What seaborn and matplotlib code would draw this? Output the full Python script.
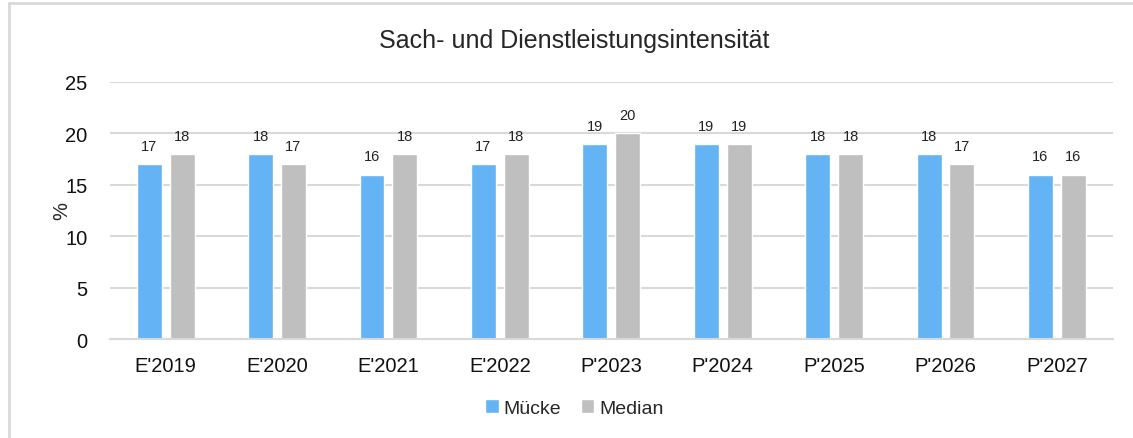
import pandas as pd
import matplotlib.pyplot as plt
import seaborn as sns
from matplotlib.lines import Line2D
from matplotlib.patches import Patch

years = ["E'2019", "E'2020", "E'2021", "E'2022", "P'2023", "P'2024", "P'2025", "P'2026", "P'2027"]
muecke = [17, 18, 16, 17, 19, 19, 18, 18, 16]
median = [18, 17, 18, 18, 20, 19, 18, 17, 16]
series_names = ["Mücke", "Median"]
colors = ["#63B3F5", "#BFBFBF"]

df = pd.DataFrame({
    "year": years * 2,
    "value": muecke + median,
    "series": [series_names[0]] * len(years) + [series_names[1]] * len(years),
})

sns.set_style("white")
plt.rcParams["font.family"] = ["Liberation Sans", "DejaVu Sans"]

fig = plt.figure(figsize=(11.33, 4.39), dpi=100)
ax = fig.add_axes([0.097, 0.2255, 0.885, 0.5855])

sns.barplot(data=df, x="year", y="value", hue="series", palette=colors,
            width=0.59, gap=0.24, saturation=1, legend=False, ax=ax)

for cont in ax.containers:
    ax.bar_label(cont, fmt="%d", padding=8, fontsize=10.5, color="#222222")

ax.set_ylim(0, 25)
ax.set_yticks(range(0, 26, 5))
ax.set_xlim(-0.5, len(years) - 0.5)
ax.yaxis.grid(True, color="#D9D9D9", linewidth=1.5)
ax.set_axisbelow(True)
for s in ["top", "right", "left"]:
    ax.spines[s].set_visible(False)
ax.spines["bottom"].set_color("#D9D9D9")
ax.spines["bottom"].set_linewidth(1.5)
ax.tick_params(axis="both", length=0, labelsize=14.5, colors="#111111")
ax.tick_params(axis="x", pad=12)
ax.tick_params(axis="y", pad=16)
ax.set_xlabel("")
ax.set_ylabel("%", fontsize=14.5, labelpad=-4)

fig.suptitle("Sach- und Dienstleistungsintensität", fontsize=18, y=0.935, x=0.507)

handles = [Patch(facecolor=c, label=n) for c, n in zip(colors, series_names)]
fig.legend(handles=handles, loc="center", bbox_to_anchor=(0.507, 0.068), ncol=2,
           frameon=False, fontsize=14, handlelength=0.7, handleheight=0.7,
           handletextpad=0.25, columnspacing=1.0)

# light frame (left and top edges visible in the reference)
fig.add_artist(Line2D([9 / 1133, 9 / 1133], [0, 1 - 4 / 439], color="#D9D9D9", lw=2,
                      transform=fig.transFigure))
fig.add_artist(Line2D([9 / 1133, 1], [1 - 4 / 439, 1 - 4 / 439], color="#D9D9D9", lw=2,
                      transform=fig.transFigure))

fig.savefig("out.png", dpi=100)
